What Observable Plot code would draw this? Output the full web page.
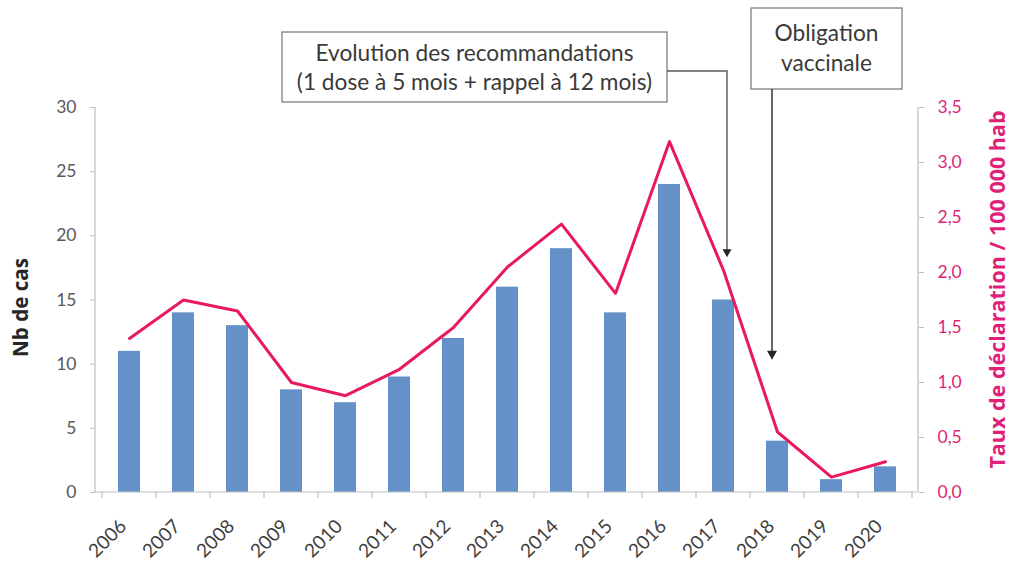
<!DOCTYPE html>
<html><head><meta charset="utf-8">
<script src="https://cdn.jsdelivr.net/npm/d3@7"></script>
<script src="https://cdn.jsdelivr.net/npm/@observablehq/plot@0.6"></script>
<style>html,body{margin:0;padding:0;background:#fff}#chart svg{display:block}</style>
</head><body><div id="chart"></div>
<script>
// ---- data ----
const years = ["2006","2007","2008","2009","2010","2011","2012","2013","2014","2015","2016","2017","2018","2019","2020"];
const cases = [11,14,13,8,7,9,12,16,19,14,24,15,4,1,2];
const rates = [1.40,1.75,1.65,1.00,0.88,1.12,1.50,2.05,2.44,1.81,3.19,2.02,0.55,0.14,0.28];
const caseTicks = [0,5,10,15,20,25,30];
const rateTicks = [0,0.5,1,1.5,2,2.5,3,3.5];
const leftTitle = "Nb de cas";
const rightTitle = "Taux de déclaration / 100 000 hab";
const note1Lines = ["Evolution des recommandations","(1 dose à 5 mois + rappel à 12 mois)"];
const note2Lines = ["Obligation","vaccinale"];
const note1Target = {year: "2017", cases: 18.3};
const note2Target = {year: "2018", cases: 10.3};

// ---- layout / style ----
const W = 1010, H = 571, mL = 95, mR = 92, mT = 107, mB = 79;
const caseMax = 30, rateMax = 3.5;
const toCases = r => r * caseMax / rateMax;
const font = "Lato, 'Open Sans', 'DejaVu Sans', sans-serif";
const titleFont = "'Open Sans', Lato, sans-serif";
const barColor = "#6391C8", lineColor = "#E8195F", pink = "#E01F78";
const textGray = "#595959";

const table = years.map((y, i) => ({year: y, cases: cases[i], rate: rates[i]}));

function decor(index, scales) {
  const x = scales.x, y = scales.y;
  const bw = x.bandwidth(), step = x.step();
  const cx = v => x(v) + bw / 2;
  const left = mL, right = W - mR, y0 = y(0), yTop = y(caseMax);
  const g = d3.create("svg:g").attr("fill", "none");
  const line = (x1, y1, x2, y2, stroke, sw = 1) =>
    g.append("line").attr("x1", x1).attr("y1", y1).attr("x2", x2).attr("y2", y2)
     .attr("stroke", stroke).attr("stroke-width", sw);
  line(left, yTop, left, y0, "#bfbfbf", 1.2);
  line(right, yTop, right, y0, "#cdb4c2", 1.2);
  line(left, y0, right, y0, "#bfbfbf", 1.2);
  const bounds = years.map(v => x(v) - (step - bw) / 2)
    .concat([x(years[years.length - 1]) + bw + (step - bw) / 2]);
  for (const b of bounds) line(b, y0, b, y0 + 6, "#bfbfbf", 1.2);

  const box = (x0, y0b, w, h) => g.append("rect").attr("x", x0).attr("y", y0b)
    .attr("width", w).attr("height", h).attr("fill", "white").attr("stroke", "#7f7f7f").attr("stroke-width", 1.3);
  const label = (lines, xc, ys, size) => lines.forEach((t, i) =>
    g.append("text").attr("x", xc).attr("y", ys[i]).attr("text-anchor", "middle")
     .attr("dominant-baseline", "middle").attr("fill", "#3a3a3a")
     .attr("font-size", size).attr("font-family", font).text(t));
  const head = (xt, yt, w, h, fill) => g.append("path")
    .attr("d", `M${xt},${yt}L${xt - w / 2},${yt - h}L${xt + w / 2},${yt - h}Z`).attr("fill", fill);

  // note 1: box + elbow connector
  const a1x = cx(note1Target.year) + 4, a1y = y(note1Target.cases);
  box(282, 32, 385, 70);
  label(note1Lines, 474.5, [55, 84], 22.7);
  g.append("path").attr("d", `M667,71H${a1x}V${a1y - 7}`).attr("stroke", "#595959").attr("stroke-width", 1.4);
  head(a1x, a1y, 9, 8, "#262626");

  // note 2: box + straight arrow
  const a2x = cx(note2Target.year) - 5, a2y = y(note2Target.cases);
  box(751, 8, 151, 81);
  label(note2Lines, 826.5, [35, 65], 22.7);
  line(a2x, 89, a2x, a2y - 7, "#262626", 1.4);
  head(a2x, a2y, 10, 9, "#262626");
  return g.node();
}

const chart = Plot.plot({
  width: W, height: H,
  marginLeft: mL, marginRight: mR, marginTop: mT, marginBottom: mB,
  style: {fontFamily: font, fontSize: "16px", background: "white", overflow: "visible"},
  x: {type: "band", domain: years, paddingInner: 0.6, paddingOuter: 0.3, axis: null},
  y: {domain: [0, caseMax]},
  marks: [
    Plot.barY(table, {x: "year", y: "cases", fill: barColor}),
    Plot.line(table, {x: "year", y: d => toCases(d.rate), stroke: lineColor, strokeWidth: 3, strokeLinejoin: "round"}),
    Plot.axisY(caseTicks, {anchor: "left", tickSize: 5, tickPadding: 14, stroke: "#bfbfbf", fill: textGray, fontSize: 17.5, label: null}),
    Plot.axisY(rateTicks.map(toCases), {anchor: "right", tickSize: 5, tickPadding: 14, stroke: "#cdb4c2", fill: pink, fontSize: 17.5, label: null,
      tickFormat: d => (d * rateMax / caseMax).toFixed(1).replace(".", ",")}),
    Plot.text([leftTitle], {text: d => d, frameAnchor: "left", textAnchor: "middle", lineAnchor: "middle", rotate: -90, dx: -74, dy: 7.5,
      fontFamily: titleFont, fontWeight: "bold", fontSize: 20.6, fill: "#262626"}),
    Plot.text([rightTitle], {text: d => d, frameAnchor: "right", textAnchor: "middle", lineAnchor: "middle", rotate: -90, dx: 80, dy: -10.5,
      fontFamily: titleFont, fontWeight: "bold", fontSize: 21.5, fill: pink}),
    Plot.text(years, {x: d => d, text: d => d, frameAnchor: "bottom", rotate: -45, textAnchor: "end", dx: -2, dy: 35, fontSize: 19, fill: "#3f3f3f"}),
    decor
  ]
});
document.getElementById("chart").appendChild(chart);
</script>
</body></html>
